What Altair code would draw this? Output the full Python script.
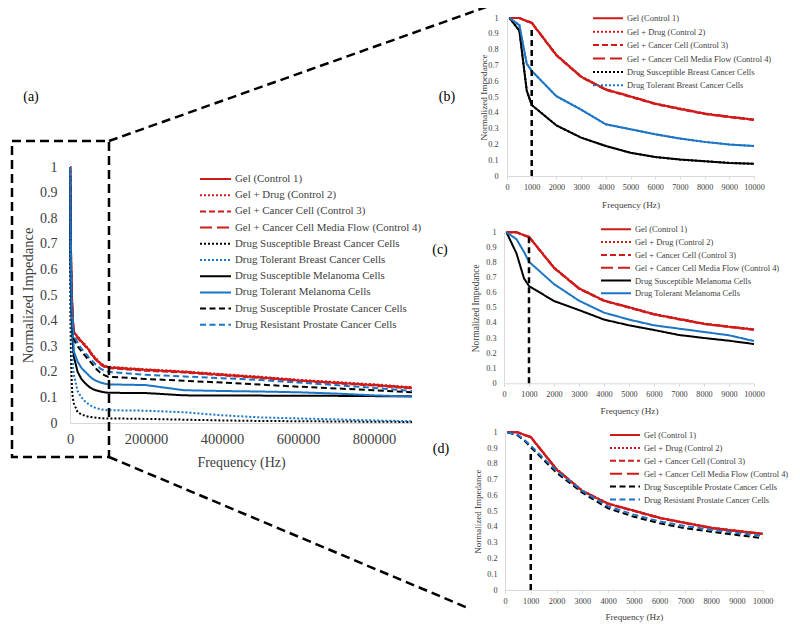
import altair as alt
import pandas as pd

FONT = "Liberation Serif"
TXT = "#404040"
AXC = "#D9D9D9"
RED = "#D01B1B"
BLUE = "#1C75C4"
BLACK = "#000000"

FREQ = [100, 500, 800, 1000, 2000, 3000, 4000, 5000, 6000, 7000, 8000, 9000, 10000,
        20000, 30000, 40000, 50000, 60000, 70000, 80000, 90000, 100000,
        200000, 300000, 400000, 500000, 600000, 700000, 800000, 900000]

SERIES = ["Gel (Control 1)", "Gel + Drug (Control 2)", "Gel + Cancer Cell (Control 3)",
          "Gel + Cancer Cell Media Flow (Control 4)", "Drug Susceptible Breast Cancer Cells",
          "Drug Tolerant Breast Cancer Cells", "Drug Susceptible Melanoma Cells",
          "Drug Tolerant Melanoma Cells", "Drug Susceptible Prostate Cancer Cells",
          "Drug Resistant Prostate Cancer Cells"]

GEL_1 = [1.0, 1.0, 0.98, 0.97, 0.765, 0.628, 0.547, 0.503, 0.457, 0.425, 0.394, 0.374, 0.356,
         0.335, 0.318, 0.303, 0.285, 0.262, 0.247, 0.232, 0.222, 0.217,
         0.207, 0.199, 0.188, 0.178, 0.166, 0.157, 0.148, 0.137]
GEL_DRUG_2 = [1.0, 1.0, 0.982, 0.972, 0.768, 0.631, 0.549, 0.505, 0.459, 0.428, 0.396, 0.376, 0.358,
              0.338, 0.320, 0.306, 0.288, 0.265, 0.250, 0.235, 0.225, 0.220,
              0.210, 0.202, 0.191, 0.181, 0.169, 0.160, 0.151, 0.140]
GEL_CELL_3 = [1.0, 1.0, 0.979, 0.968, 0.762, 0.626, 0.545, 0.500, 0.455, 0.423, 0.392, 0.372, 0.354,
              0.332, 0.315, 0.300, 0.282, 0.259, 0.244, 0.229, 0.219, 0.214,
              0.204, 0.197, 0.186, 0.176, 0.164, 0.155, 0.146, 0.135]
GEL_FLOW_4 = [1.0, 1.0, 0.981, 0.971, 0.766, 0.629, 0.548, 0.504, 0.458, 0.426, 0.395, 0.375, 0.357,
              0.336, 0.319, 0.304, 0.286, 0.263, 0.248, 0.233, 0.223, 0.218,
              0.208, 0.200, 0.189, 0.179, 0.167, 0.158, 0.149, 0.138]
BREAST_SUS = [1.0, 0.92, 0.54, 0.45, 0.32, 0.243, 0.19, 0.147, 0.12, 0.104, 0.094, 0.083, 0.077,
              0.042, 0.034, 0.028, 0.024, 0.022, 0.020, 0.019, 0.018, 0.018,
              0.016, 0.013, 0.010, 0.008, 0.007, 0.006, 0.005, 0.004]
BREAST_TOL = [1.0, 0.955, 0.71, 0.665, 0.505, 0.42, 0.327, 0.296, 0.264, 0.237, 0.216, 0.199, 0.19,
              0.125, 0.10, 0.084, 0.072, 0.063, 0.058, 0.054, 0.051, 0.05,
              0.048, 0.042, 0.030, 0.022, 0.018, 0.014, 0.010, 0.007]
MEL_SUS = [1.0, 0.86, 0.695, 0.644, 0.545, 0.485, 0.422, 0.384, 0.353, 0.32, 0.30, 0.282, 0.26,
           0.20, 0.172, 0.155, 0.142, 0.132, 0.127, 0.123, 0.120, 0.118,
           0.117, 0.108, 0.107, 0.107, 0.106, 0.106, 0.105, 0.104]
MEL_TOL = [1.0, 0.954, 0.87, 0.805, 0.657, 0.547, 0.468, 0.422, 0.384, 0.362, 0.34, 0.318, 0.28,
           0.24, 0.215, 0.20, 0.185, 0.172, 0.164, 0.158, 0.154, 0.151,
           0.148, 0.128, 0.125, 0.123, 0.12, 0.115, 0.108, 0.103]
PRO_SUS = [1.0, 0.98, 0.94, 0.905, 0.744, 0.617, 0.518, 0.465, 0.423, 0.391, 0.37, 0.349, 0.328,
           0.30, 0.28, 0.262, 0.245, 0.228, 0.21, 0.196, 0.187, 0.181,
           0.172, 0.165, 0.158, 0.150, 0.142, 0.135, 0.128, 0.120]
PRO_RES = [1.0, 0.985, 0.945, 0.915, 0.755, 0.628, 0.53, 0.478, 0.435, 0.405, 0.382, 0.362, 0.343,
           0.315, 0.29, 0.275, 0.255, 0.24, 0.225, 0.212, 0.205, 0.2,
           0.188, 0.182, 0.175, 0.168, 0.158, 0.148, 0.137, 0.125]

VALUES = [GEL_1, GEL_DRUG_2, GEL_CELL_3, GEL_FLOW_4, BREAST_SUS, BREAST_TOL,
          MEL_SUS, MEL_TOL, PRO_SUS, PRO_RES]

COLORS = [RED, RED, RED, RED, BLACK, BLUE, BLACK, BLUE, BLACK, BLUE]
DASHES = [[1, 0], [2, 2], [6, 3], [12, 5], [2, 2], [2, 2], [1, 0], [1, 0], [6, 3.5], [6, 3.5]]

Y_TICKS = [0, 0.1, 0.2, 0.3, 0.4, 0.5, 0.6, 0.7, 0.8, 0.9, 1]
X_TICKS_A = [0, 200000, 400000, 600000, 800000]
X_TICKS_S = [0, 1000, 2000, 3000, 4000, 5000, 6000, 7000, 8000, 9000, 10000]

VLINE_FREQ = 1000
VLINE_TOP = {"b": 0.935, "c": 0.975, "d": 0.87}

rows = []
for name, vals in zip(SERIES, VALUES):
    for f, v in zip(FREQ, vals):
        rows.append({"series": name, "freq": f, "value": v})
df = pd.DataFrame(rows)

COLOR_OF = dict(zip(SERIES, COLORS))
DASH_OF = dict(zip(SERIES, DASHES))

W, H = 784, 616


def legend_cfg(lx, ly, fsize, clip, rowpad, symsize):
    return alt.Legend(orient="none", legendX=lx, legendY=ly, title=None, labelFont=FONT,
                      labelFontSize=fsize, labelColor=TXT, labelLimit=400, labelOffset=3,
                      symbolType="stroke", symbolSize=symsize, symbolStrokeWidth=2,
                      clipHeight=clip, rowPadding=rowpad, padding=0, symbolOffset=0)


def x_axis(bottom, values, fsize, labpad, title_y, tsize, ticks):
    return alt.Axis(orient="bottom", offset=bottom - H, values=values, format="d", grid=False,
                    ticks=ticks, tickColor=AXC, tickSize=3, domainColor=AXC, domainWidth=1,
                    labelFont=FONT, labelFontSize=fsize, labelColor=TXT, labelPadding=labpad,
                    labelFlush=False, labelOverlap=False, title="Frequency (Hz)",
                    titleFont=FONT, titleFontSize=tsize, titleFontWeight="normal",
                    titleColor=TXT, titleY=title_y, titleBaseline="middle")


def y_axis(left, fsize, labpad, title_x, tsize):
    return alt.Axis(orient="left", offset=-left, values=Y_TICKS, format=".1~f", grid=False,
                    ticks=False, domainColor=AXC, domainWidth=1,
                    labelFont=FONT, labelFontSize=fsize, labelColor=TXT, labelPadding=labpad,
                    labelFlush=False, labelOverlap=False, title="Normalized Impedance",
                    titleFont=FONT, titleFontSize=tsize, titleFontWeight="normal",
                    titleColor=TXT, titleX=title_x, titleAngle=270, titleBaseline="middle",
                    titleAlign="center")


def panel(names, maxf, xr, yr, xax, yax, leg, solid_names=(), vtop=None):
    # every layer gets its own (identical) explicit scale, so mapping is the same
    def xs():
        return alt.Scale(domain=[0, maxf], range=xr, nice=False, zero=False)

    def ys():
        return alt.Scale(domain=[0, 1], range=yr, nice=False, zero=False)

    main = alt.Chart(df).transform_filter(
        alt.FieldOneOfPredicate(field="series", oneOf=names)
    ).transform_filter(alt.datum.freq <= maxf).mark_line(strokeWidth=2).encode(
        x=alt.X("freq:Q", scale=xs(), axis=xax),
        y=alt.Y("value:Q", scale=ys(), axis=yax),
        color=alt.Color("series:N", scale=alt.Scale(domain=names, range=[COLOR_OF[n] for n in names]),
                        legend=leg),
        strokeDash=alt.StrokeDash("series:N",
                                  scale=alt.Scale(domain=names, range=[DASH_OF[n] for n in names]),
                                  legend=leg),
    )
    layers = [main]
    for n in solid_names:
        layers.append(
            alt.Chart(df).transform_filter(alt.datum.series == n)
            .transform_filter(alt.datum.freq <= maxf)
            .mark_line(strokeWidth=2, color=COLOR_OF[n])
            .encode(x=alt.X("freq:Q", scale=xs(), axis=None),
                    y=alt.Y("value:Q", scale=ys(), axis=None))
        )
    if vtop is not None:
        vdf = pd.DataFrame({"freq": [VLINE_FREQ], "value": [0.0], "value2": [vtop]})
        layers.append(
            alt.Chart(vdf).mark_rule(color="black", strokeWidth=2.5, strokeDash=[6, 4]).encode(
                x=alt.X("freq:Q", scale=xs(), axis=None),
                y=alt.Y("value:Q", scale=ys(), axis=None),
                y2="value2:Q")
        )
    return layers


# Panel (a)
pA = panel(SERIES, 900000, [62, 404], [415, 159],
           x_axis(415, X_TICKS_A, 14.5, 9, 39, 14, False),
           y_axis(62, 14, 13, -41.5, 14.5),
           legend_cfg(191, 165, 10.9, 12, 4.2, 961))

names_b = SERIES[:6]
pB = panel(names_b, 10000, [499, 746], [168, 10],
           x_axis(168, X_TICKS_S, 8.2, 4.5, 28, 9.2, True),
           y_axis(499, 8.2, 9, -24, 9.2),
           legend_cfg(584, 5.3, 8.45, 10, 3.4, 900),
           solid_names=SERIES[4:6], vtop=VLINE_TOP["b"])

names_c = SERIES[:4] + SERIES[6:8]
pC = panel(names_c, 10000, [496, 746], [375.3, 224.3],
           x_axis(375.3, X_TICKS_S, 8.2, 4.5, 27.4, 9.2, True),
           y_axis(496, 8.2, 8, -29, 9.4),
           legend_cfg(592, 216.3, 8.45, 10, 2.8, 900),
           vtop=VLINE_TOP["c"])

names_d = SERIES[:4] + SERIES[8:10]
pD = panel(names_d, 10000, [497, 754.7], [582, 424.3],
           x_axis(582, X_TICKS_S, 8.2, 4.5, 26.7, 9.2, True),
           y_axis(497, 8.2, 8, -28, 9.0),
           legend_cfg(601, 422, 8.45, 10, 2.9, 900),
           vtop=VLINE_TOP["d"])

one = pd.DataFrame({"k": [0]})
box = alt.Chart(one).mark_rect(fillOpacity=0, stroke="black", strokeWidth=2.5,
                               strokeDash=[9, 5]).encode(
    x=alt.value(4), x2=alt.value(101), y=alt.value(133), y2=alt.value(449))
diag_top = alt.Chart(one).mark_rule(color="black", strokeWidth=2.5, strokeDash=[9, 5]).encode(
    x=alt.value(101), y=alt.value(133), x2=alt.value(481), y2=alt.value(-2))
diag_bot = alt.Chart(one).mark_rule(color="black", strokeWidth=2.5, strokeDash=[9, 5]).encode(
    x=alt.value(101), y=alt.value(449), x2=alt.value(460), y2=alt.value(600))

PANEL_LABELS = ["(a)", "(b)", "(c)", "(d)"]
LABEL_POS = [(23, 89), (439, 89), (432, 242), (433, 441)]
labels = []
for lab, (px, py) in zip(PANEL_LABELS, LABEL_POS):
    labels.append(
        alt.Chart(pd.DataFrame({"t": [lab]})).mark_text(
            font=FONT, fontSize=14, color="black", align="center", baseline="middle"
        ).encode(x=alt.value(px), y=alt.value(py), text="t:N")
    )

all_layers = pA + pB + pC + pD + [box, diag_top, diag_bot] + labels

chart = alt.layer(*all_layers).resolve_scale(
    x="independent", y="independent", color="independent", strokeDash="independent"
).resolve_axis(x="independent", y="independent").resolve_legend(
    color="independent", strokeDash="independent"
).properties(
    width=W, height=H, autosize=alt.AutoSizeParams(type="none"), padding=0,
    background="white"
).configure_view(strokeWidth=0)

chart.save("out.html", embed_options={"renderer": "svg", "actions": False})
